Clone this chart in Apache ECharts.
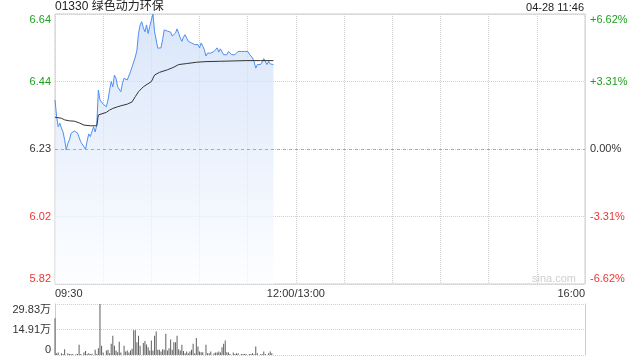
<!DOCTYPE html>
<html><head><meta charset="utf-8">
<script src="https://cdn.jsdelivr.net/npm/echarts@6/dist/echarts.min.js"></script>
<style>html,body{margin:0;padding:0;background:#fff}#c{width:640px;height:360px}</style>
</head><body><div id="c"></div>
<script>
const stockTitle = '01330 绿色动力环保';
const stamp = '04-28 11:46';
const prevClose = 6.23;
const pctLimit = 6.62;
const pctStep = 3.31;
const timeTicks = {0: '09:30', 150: '12:00/13:00', 330: '16:00'};
const volTickLabels = ['0', '14.91万', '29.83万'];
const volMax = 29.83;

// price per minute from 09:30 (index = minutes since open)
const price = [
6.380,6.329,6.298,6.309,6.294,6.282,6.258,6.227,6.247,6.258,
6.278,6.273,6.285,6.288,6.279,6.278,6.252,6.247,6.237,6.229,
6.254,6.276,6.268,6.273,6.298,6.282,6.303,6.410,6.380,6.374,
6.367,6.370,6.359,6.380,6.410,6.436,6.420,6.456,6.446,6.420,
6.426,6.405,6.431,6.446,6.441,6.441,6.436,6.466,6.481,6.496,
6.511,6.532,6.583,6.609,6.619,6.600,6.588,6.609,6.583,6.604,
6.624,6.642,6.588,6.583,6.538,6.539,6.539,6.564,6.594,6.600,
6.590,6.584,6.587,6.575,6.572,6.584,6.597,6.584,6.569,6.559,
6.572,6.579,6.569,6.559,6.554,6.554,6.549,6.549,6.547,6.549,
6.539,6.554,6.544,6.533,6.514,6.523,6.526,6.523,6.517,6.528,
6.526,6.539,6.526,6.536,6.532,6.518,6.523,6.518,6.528,6.528,
6.518,6.518,6.518,6.523,6.528,6.528,6.528,6.528,6.528,6.528,
6.528,6.520,6.517,6.508,6.496,6.477,6.488,6.488,6.488,6.496,
6.506,6.502,6.488,6.498,6.490,6.493,6.488
];

// average price line (minute, price)
const avgMin = [0,4,6,9,12,15,18,22,26,27,28,32,34,36,39,41,45,48,50,52,55,60,62,65,70,74,77,82,88,94,103,111,119,128,136];
const avgPrice = [6.327,6.324,6.319,6.316,6.315,6.310,6.303,6.301,6.301,6.334,6.339,6.342,6.349,6.354,6.359,6.362,6.367,6.374,6.390,6.405,6.420,6.436,6.456,6.464,6.472,6.480,6.488,6.491,6.495,6.497,6.498,6.499,6.500,6.500,6.500];

// volume (minute, 万股)
const volMin = [0,1,2,4,5,6,8,9,10,11,13,14,15,16,18,19,20,21,22,23,25,26,27,28,29,30,32,33,34,35,36,37,38,39,40,41,43,44,45,46,47,48,49,50,51,52,53,55,56,57,58,59,60,61,62,63,64,65,66,67,68,69,70,71,72,73,74,75,76,77,78,79,80,81,82,83,84,85,86,87,88,89,90,91,92,94,95,96,97,99,100,101,102,103,104,105,106,107,108,109,111,112,113,114,116,117,118,119,121,122,123,124,125,126,128,129,130,131,133,134,135];
const vol = [21.5,1.0,1.4,1.0,0.6,3.4,1.0,0.6,0.6,0.6,0.4,0.6,6.0,0.6,1.4,2.4,0.6,1.0,0.6,0.8,3.0,0.6,4.0,29.83,5.4,1.4,2.6,3.0,1.0,6.6,11.3,5.4,2.6,1.6,7.8,1.4,5.4,2.0,2.6,1.4,2.6,3.6,14.5,14.5,7.4,11.3,5.4,7.0,8.2,6.2,4.6,2.6,8.5,2.6,11.3,13.7,3.0,3.0,2.0,3.4,3.0,12.5,2.6,4.0,9.0,3.0,7.4,7.4,11.3,3.4,2.6,6.0,2.4,1.0,2.0,1.0,2.0,3.0,6.6,1.0,10.0,5.0,2.0,1.6,1.6,6.0,1.0,1.0,2.0,1.0,1.4,1.4,2.0,1.4,4.6,6.6,8.5,1.6,1.4,0.6,1.4,0.6,1.0,1.0,0.6,0.6,0.6,0.6,0.6,0.6,1.0,0.4,5.0,1.0,0.4,0.6,2.0,0.6,1.0,2.0,1.0];

const FONT = '"Liberation Sans", Arial, "Noto Sans CJK SC", sans-serif';
const GREEN = '#1f9e1f', RED = '#ee3535', DARK = '#333';
const toPct = p => (p / prevClose - 1) * 100;
const colorOf = v => { v = parseFloat(v); return v > 1e-6 ? GREEN : (v < -1e-6 ? RED : DARK); };
const dotted = {color: '#d0d0d0', type: [1, 1], width: 1};

const chart = echarts.init(document.getElementById('c'), null, {renderer: 'canvas'});
chart.setOption({
  animation: false,
  textStyle: {fontFamily: FONT},
  grid: [
    {left: 55, right: 55, top: 14, height: 270, show: true, borderColor: '#cccccc', borderWidth: 1},
    {left: 55, right: 55, top: 304, height: 51}
  ],
  xAxis: [
    {gridIndex: 0, type: 'value', min: 0, max: 330, interval: 30,
     axisLine: {show: false}, axisTick: {show: false},
     splitLine: {show: true, lineStyle: dotted},
     axisLabel: {fontSize: 11, color: DARK, margin: 4, fontFamily: FONT,
       showMinLabel: true, showMaxLabel: true, alignMinLabel: 'left', alignMaxLabel: 'right',
       formatter: v => timeTicks[Math.round(v)] || ''}},
    {gridIndex: 1, type: 'value', min: 0, max: 330, interval: 30,
     axisLine: {show: false}, axisTick: {show: false}, splitLine: {show: false}, axisLabel: {show: false}}
  ],
  yAxis: [
    {gridIndex: 0, type: 'value', position: 'left', min: -pctLimit, max: pctLimit, interval: pctStep,
     axisLine: {show: false}, axisTick: {show: false},
     splitLine: {show: true, lineStyle: dotted},
     axisLabel: {fontSize: 11, margin: 4, fontFamily: FONT,
       verticalAlignMinLabel: 'bottom', verticalAlignMaxLabel: 'top',
       color: colorOf,
       formatter: v => (prevClose * (1 + v / 100)).toFixed(2)}},
    {gridIndex: 0, type: 'value', position: 'right', min: -pctLimit, max: pctLimit, interval: pctStep,
     axisLine: {show: false}, axisTick: {show: false}, splitLine: {show: false},
     axisLabel: {fontSize: 11, margin: 5, fontFamily: FONT,
       verticalAlignMinLabel: 'bottom', verticalAlignMaxLabel: 'top',
       color: colorOf,
       formatter: v => Math.abs(v) < 1e-6 ? '0.00%' : (v > 0 ? '+' : '') + v.toFixed(2) + '%'}},
    {gridIndex: 1, type: 'value', position: 'left', min: 0, max: volMax, interval: volMax / 2,
     axisLine: {show: true, lineStyle: {color: '#cccccc'}}, axisTick: {show: false},
     splitLine: {show: true, lineStyle: dotted},
     axisLabel: {fontSize: 11, margin: 4, color: DARK, fontFamily: FONT,
       verticalAlignMinLabel: 'bottom', verticalAlignMaxLabel: 'top',
       formatter: (v, i) => volTickLabels[i]}},
    {gridIndex: 1, type: 'value', position: 'right', min: 0, max: volMax, interval: volMax / 2,
     axisLine: {show: true, lineStyle: {color: '#cccccc'}}, axisTick: {show: false},
     splitLine: {show: false}, axisLabel: {show: false}}
  ],
  series: [
    {type: 'line', xAxisIndex: 0, yAxisIndex: 0, symbol: 'none',
     data: price.map((p, i) => [i, toPct(p)]),
     lineStyle: {color: '#4f8ff0', width: 1},
     areaStyle: {origin: 'start', color: new echarts.graphic.LinearGradient(0, 0, 0, 1, [
       {offset: 0, color: '#c8daf7'}, {offset: 1, color: '#fcfdff'}])},
     markLine: {silent: true, symbol: 'none', label: {show: false},
       lineStyle: {color: '#aaaaaa', type: [3, 3], width: 1},
       data: [{yAxis: 0}]}},
    {type: 'line', xAxisIndex: 0, yAxisIndex: 0, symbol: 'none',
     data: avgMin.map((m, i) => [m, toPct(avgPrice[i])]),
     lineStyle: {color: '#333333', width: 1}},
    {type: 'bar', xAxisIndex: 1, yAxisIndex: 2, barWidth: 1,
     data: volMin.map((m, i) => [m, vol[i]]),
     itemStyle: {color: '#5f5f5f'}}
  ],
  graphic: [
    {type: 'text', left: 55, top: 1, style: {text: stockTitle, fill: '#222', font: '12px ' + FONT}},
    {type: 'text', right: 56, top: 2, style: {text: stamp, fill: '#222', font: '11px ' + FONT}},
    {type: 'text', left: 532, top: 273, style: {text: 'sina.com', fill: '#cfcfcf', font: '11px ' + FONT}}
  ]
});
</script>
</body></html>
